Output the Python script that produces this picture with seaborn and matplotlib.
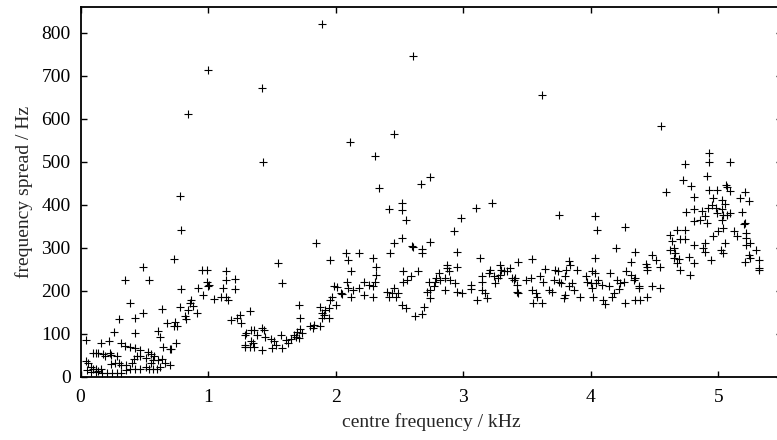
import numpy as np
import pandas as pd
import matplotlib
matplotlib.use("Agg")
import matplotlib.pyplot as plt
import seaborn as sns

# ---- data (centre frequency in kHz, frequency spread in Hz) ----
freq_low = [0.79,0.73,0.49,0.35,0.54,0.79,0.95,0.99,0.99,1.00,1.14,1.14,1.21,1.21,0.92,1.01,1.12,1.10,1.14,1.05,
            1.16,0.96,0.87,0.86,0.88,0.91,0.78,0.84,0.82,0.83,0.74,0.73,0.76,0.68,0.64,0.49,0.39,0.30,0.43,0.43,
            0.26,0.04,0.16,0.22,0.32,0.35,0.39,0.43,0.47,0.53,0.55,0.58,0.61,0.62,0.65,0.70,0.71,0.75,0.10,0.12,
            0.14,0.18,0.19,0.23,0.24,0.29,0.04,0.06,0.08,0.10,0.12,0.16,0.24,0.27,0.30,0.32,0.36,0.40,0.42,0.44,
            0.47,0.51,0.55,0.57,0.61,0.64,0.66,0.05,0.08,0.12,0.14,0.17,0.21,0.25,0.29,0.32,0.36,0.39,0.43,0.47,
            0.51,0.54,0.57,0.60,0.62,0.70,1.30,1.34,1.29,1.34,1.33,1.25,1.23,1.18,1.26]
spread_low = [340,273,256,224,224,204,247,249,221,210,246,225,228,204,206,214,206,186,186,180,
              179,189,179,171,165,148,163,154,140,134,126,118,118,124,157,149,171,134,136,101,
              103,85,79,82,78,71,70,66,61,58,53,48,107,93,70,64,65,78,56,56,
              56,53,47,54,50,48,36,31,23,19,19,19,30,33,31,27,27,33,40,47,
              48,43,31,39,39,40,31,16,12,12,14,9,8,8,8,8,16,17,19,19,
              22,19,19,19,22,27,101,109,74,82,70,144,136,132,124]

freq_mid = [1.33,1.29,1.36,1.42,1.44,1.38,1.29,1.35,1.36,1.42,1.45,1.49,1.52,1.53,1.50,1.58,1.57,1.61,1.63,1.65,
            1.67,1.69,1.71,1.74,1.70,1.72,1.72,1.71,1.80,1.82,1.83,1.88,1.58,1.55,1.85,1.88,1.89,1.91,1.92,1.95,
            1.96,1.97,2.00,1.95,1.89,1.96,1.99,2.01,2.04,2.05,2.08,2.10,2.12,2.09,2.10,2.12,2.14,2.18,2.22,2.22,
            2.29,2.26,2.29,2.18,2.29,2.32,2.32,2.31,2.42,2.52,2.52,2.55,2.52,2.46,2.43,2.60,2.40,2.44,2.46,2.42,
            2.47,2.49,2.53,2.53,2.56,2.59,2.65,2.52,2.55,2.62]
spread_mid = [152,97,109,113,109,97,70,78,70,62,93,87,82,74,66,66,97,85,78,87,
              97,93,89,101,105,110,136,167,117,113,120,117,218,264,311,163,148,144,155,159,
              179,186,167,136,136,272,211,208,194,193,287,272,245,221,206,186,202,206,221,190,
              186,214,210,287,276,256,237,221,390,404,388,365,322,311,287,303,198,194,206,186,
              186,194,221,245,225,233,245,167,159,140]

freq_3k = [2.68,2.69,2.61,2.68,2.68,2.74,2.98,2.93,3.10,3.23,3.75,2.95,2.95,3.13,2.73,2.74,2.72,2.74,2.77,2.78,
           2.79,2.82,2.81,2.87,2.87,2.89,2.86,2.90,2.94,2.86,2.95,2.99,3.06,3.06,3.11,3.15,3.15,3.15,3.17,3.19,
           3.20,3.21,3.24,3.25,3.27,3.29,3.30,3.29,3.32,3.34,3.37,3.38,3.40,3.41,3.42,3.42,3.43,3.43,3.49,3.54,
           3.53,3.54,3.57,3.58,3.55,3.62,3.60,3.63,3.64,3.67,3.70,3.71,3.72,3.74,3.75,3.77,3.80,3.83,3.84,3.81,
           3.83,3.85,3.87,3.89,3.79,3.80]
spread_3k = [146,162,301,297,287,312,369,338,392,404,377,289,255,276,221,202,198,183,210,221,
             229,225,241,260,253,245,229,225,218,202,198,194,214,204,179,202,221,233,194,183,
             242,249,235,218,229,260,249,237,245,245,253,229,225,229,214,198,194,266,225,273,
             229,202,194,186,171,172,233,221,250,202,198,225,249,245,221,218,233,268,260,249,
             210,218,202,249,183,190]

freq_4k = [3.92,4.03,4.05,4.27,4.20,4.03,4.35,4.32,4.43,4.44,4.48,4.51,4.54,4.48,4.54,4.44,4.01,4.03,3.96,3.97,
           4.00,4.04,4.01,4.02,4.06,4.09,4.10,4.11,4.14,4.15,4.17,4.18,4.21,4.22,4.23,4.26,4.27,4.28,4.32,4.34,
           4.35,4.38,4.35,4.39,4.44,4.38]
spread_4k = [186,374,342,348,299,276,289,266,262,255,284,272,255,210,206,249,245,241,233,221,
             218,218,206,186,225,214,179,169,211,242,186,194,224,204,218,219,172,245,237,225,
             229,211,179,179,186,206]

freq_5k = [4.62,4.64,4.62,4.65,4.68,4.74,4.70,4.74,4.66,4.69,4.65,4.68,4.70,4.77,4.78,4.81,4.81,4.81,4.75,4.81,
           4.87,4.86,4.90,4.91,4.92,4.95,4.98,4.99,5.03,5.04,5.07,5.09,5.03,5.04,5.00,5.02,5.04,4.94,4.90,4.90,
           4.88,4.96,5.05,5.12,5.15,5.19,5.20,5.21,5.22,5.22,5.22,5.25,5.24,5.25,5.21,5.30,5.32,5.32,5.32]
spread_5k = [330,315,295,299,342,340,319,320,287,273,276,264,249,278,237,264,307,361,382,389,
             385,365,373,357,392,398,392,381,390,377,377,381,365,346,338,295,287,272,311,291,
             299,326,311,338,326,382,354,357,334,322,305,311,284,276,266,295,272,249,253]

freq_high = [3.62,4.55,4.93,4.93,5.09,4.74,4.91,4.72,4.79,4.59,4.81,4.93,4.99,5.06,5.07,5.09,5.21,5.24,5.17,4.96,
             5.03,5.05,2.74,2.67,1.89,2.61,1.00,1.42,0.84,2.46,2.11,1.43,2.31,0.78,2.34]
spread_high = [654,582,519,498,498,494,467,458,443,429,418,435,434,446,442,431,430,408,415,415,
               411,402,465,447,820,745,712,671,611,563,545,499,512,421,439]

x_ticks = [0, 1, 2, 3, 4, 5]
y_ticks = [0, 100, 200, 300, 400, 500, 600, 700, 800]
x_label = "centre frequency / kHz"
y_label = "frequency spread / Hz"

df = pd.DataFrame({
    "freq": freq_low + freq_mid + freq_3k + freq_4k + freq_5k + freq_high,
    "spread": spread_low + spread_mid + spread_3k + spread_4k + spread_5k + spread_high,
})

# ---- style ----
sns.set_theme(style="ticks")
plt.rcParams["font.family"] = ["Liberation Serif", "DejaVu Serif"]

fig = plt.figure(figsize=(7.77, 4.40), dpi=100)
ax = fig.add_axes([80.5 / 777, 1 - 376.7 / 440, (782 - 80.5) / 777, (376.7 - 6.7) / 440])

sns.scatterplot(data=df, x="freq", y="spread", marker="+", color="black",
                s=36, linewidth=0.8, ax=ax, legend=False)

ax.set_xlim(0, 5.5)
ax.set_ylim(0, 860)
ax.set_xticks(x_ticks)
ax.set_yticks(y_ticks)
ax.set_xticklabels([str(t) for t in x_ticks])
ax.set_yticklabels([str(t) for t in y_ticks])

for sp in ax.spines.values():
    sp.set_visible(True)
    sp.set_linewidth(1.3)
    sp.set_color("black")

ax.tick_params(axis="both", direction="in", top=True, right=True, length=4.5,
               width=1.0, colors="black", labelsize=14)
ax.tick_params(axis="x", pad=9)
ax.tick_params(axis="y", pad=7)

ax.set_xlabel(x_label, fontsize=14, labelpad=5)
ax.set_ylabel(y_label, fontsize=14, labelpad=6)
ax.grid(False)

fig.savefig("out.png", dpi=100)
